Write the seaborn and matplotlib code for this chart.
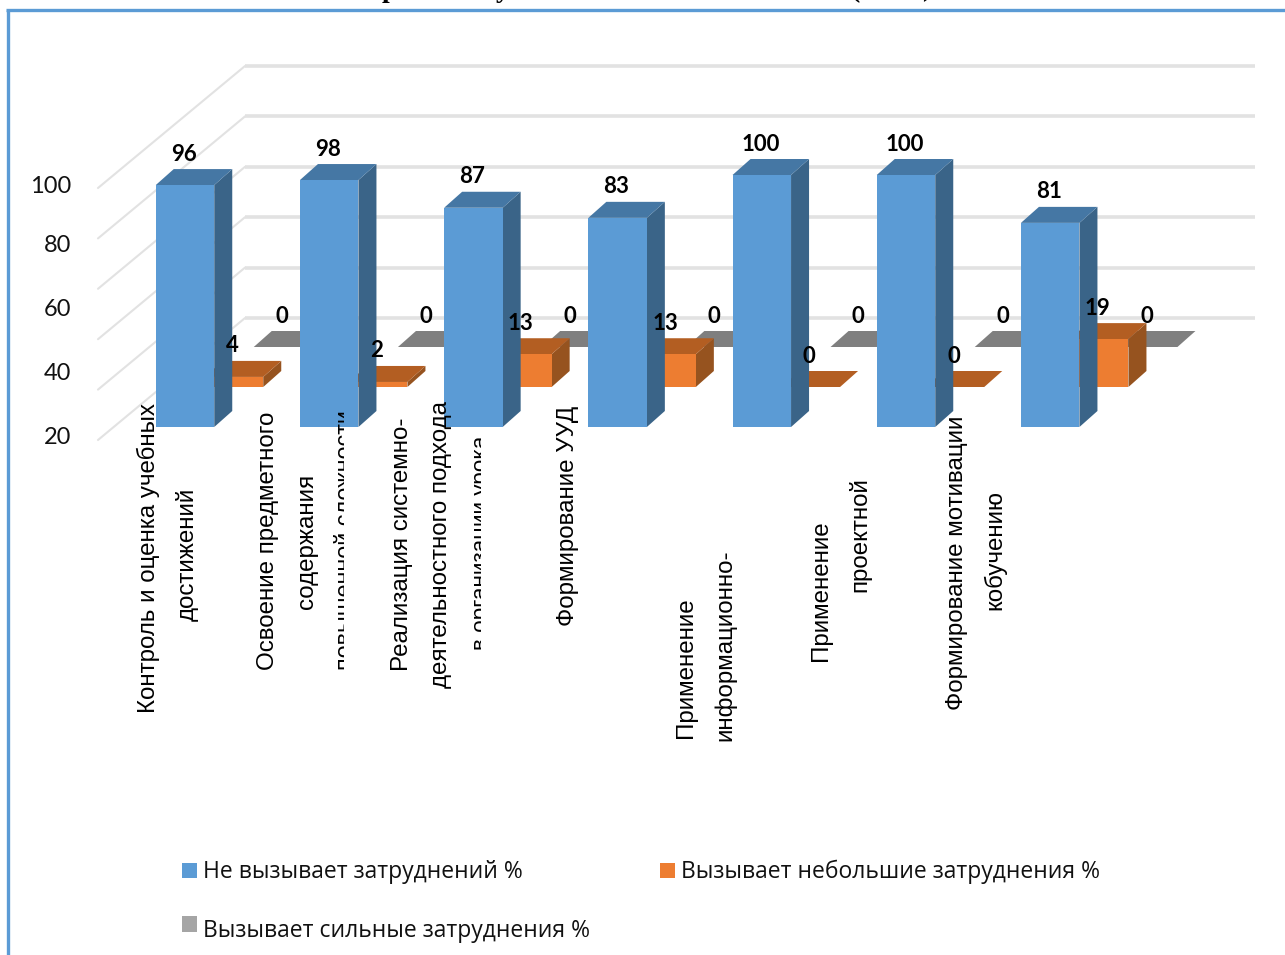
import matplotlib
matplotlib.use("Agg")
import matplotlib.pyplot as plt
import seaborn as sns
from matplotlib.patches import Patch, Rectangle

# ---------- data ----------
series_names = ["Не вызывает затруднений %", "Вызывает небольшие затруднения %", "Вызывает сильные затруднения %"]
no_difficulty = [96, 98, 87, 83, 100, 100, 81]
small_difficulty = [4, 2, 13, 13, 0, 0, 19]
strong_difficulty = [0, 0, 0, 0, 0, 0, 0]
axis_ticks = ["20", "40", "60", "80", "100"]
grid_values = [20, 40, 60, 80, 100, 120]
category_lines = [
    "Контроль и оценка учебных", "достижений",
    "Освоение предметного", "содержания", "повышенной сложности",
    "Реализация системно-", "деятельностного подхода", "в организации урока",
    "Формирование УУД",
    "Применение", "информационно-",
    "Применение", "проектной",
    "Формирование мотивации", "кобучению",
]

# ---------- layout (pixels of the 1285x955 picture) ----------
W, H = 1285, 955
PITCH, X0, Y0, PX_PER_UNIT = 144.2, 185.0, 427.0, 2.52


def X(px):
    return (px - X0) / PITCH


def Y(py):
    return (Y0 - py) / PX_PER_UNIT


sns.set_theme(style="white")
plt.rcParams["font.family"] = ["Liberation Sans", "DejaVu Sans"]
fig = plt.figure(figsize=(W / 100, H / 100), dpi=100, facecolor="white")
ax = fig.add_axes([0, 0, 1, 1])

DX = 18 / PITCH
DY = 16 / PX_PER_UNIT
BAR_W = 58.5 / PITCH
GRID = "#E2E2E2"

# walls
wall_shift, front_shift = 23.25, -25.16
for g in grid_values:
    yb = g + wall_shift
    ax.plot([X(245), X(1255)], [yb, yb], color=GRID, lw=2.6, solid_capstyle="butt", zorder=1)
    ax.plot([X(98), X(245)], [g + front_shift, yb], color=GRID, lw=1.5, zorder=1)

styles = [
    (small_difficulty, 49 / PITCH, 40 / PX_PER_UNIT, "#ED7D31", "#B35E22", "#96531F"),
    (no_difficulty, 0.0, 0.0, "#5B9BD5", "#4577A4", "#3A6488"),
]
gray = (strong_difficulty, 98 / PITCH, 80 / PX_PER_UNIT, "#A5A5A5", "#7F7F7F", "#6B6B6B")

z = 2
for values, xoff, base, front, top, side in [gray] + styles:
    xs = [i + xoff for i in range(len(values))]
    for x, v in zip(xs, values):
        l, r, t = x - BAR_W / 2, x + BAR_W / 2, base + v
        ax.fill([r, r + DX, r + DX, r], [base, base + DY, t + DY, t], color=side, lw=0, zorder=z)
        ax.fill([l, r, r + DX, l + DX], [t, t, t + DY, t + DY], color=top, lw=0, zorder=z)
    sns.barplot(x=xs, y=values, bottom=base, color=front, saturation=1, native_scale=True,
                width=BAR_W, linewidth=0, ax=ax, zorder=z + 0.5)
    z += 1

# value labels
for values, xoff, base, *_ in [gray] + styles:
    for i, v in enumerate(values):
        ax.text(i + xoff - 1.5 / PITCH, base + v + 31 / PX_PER_UNIT, str(v), ha="center", va="center",
                fontsize=16, fontweight="bold", family="Lato", color="black", zorder=10)

# axis numbers
for lab, py in zip(axis_ticks, [437.5, 373.5, 309.5, 245.5, 186.5]):
    ax.text(X(71), Y(py), lab, ha="right", va="center", fontsize=17, family="Lato",
            color="#111111", zorder=10)

# category labels: x centre, y centre, font size, clip box (x0, y0, x1, y1) or None
placements = [
    (148, 558, 17.4, None), (187, 554, 17.4, None),
    (268, 541, 17.4, None), (307, 541, 17.4, None), (346, 540, 16.8, (320, 408, 344, 672)),
    (402, 544, 17.4, None), (441, 544, 17.4, None), (481, 543, 16.2, (462, 431, 481, 656)),
    (568, 516, 17.4, None),
    (686, 668, 17.4, None), (725, 645, 17.4, (705, 500, 745, 742)),
    (821, 591, 17.4, None), (860, 535, 17.4, None),
    (957, 563, 17.4, None), (995, 550, 17.4, None),
]
for line, (px, py, size, clip) in zip(category_lines, placements):
    t = ax.text(X(px), Y(py), line, rotation=90, ha="center", va="center", fontsize=size,
                family="Liberation Sans", color="black", zorder=11)
    if clip is not None:
        x0, y0, x1, y1 = clip
        rect = Rectangle((X(x0), Y(y1)), X(x1) - X(x0), Y(y0) - Y(y1), transform=ax.transData)
        t.set_clip_path(rect)
        t.set_clip_on(True)

# fragments of the cropped heading: only the descenders are visible
for frag, px, base_py in zip(["р", "у", "(", ")"], [389, 503, 855, 927], [-3, -3, -2.5, -4]):
    ax.text(X(px), Y(base_py), frag, ha="center", va="baseline", fontsize=20, fontweight="bold",
            family="Liberation Serif", color="black", zorder=12, clip_on=False)

# frame
ax.plot([X(7.5), X(7.5)], [Y(H + 5), Y(10.5)], color="#5B9BD5", lw=2.4, solid_capstyle="butt", zorder=12)
ax.plot([X(6), X(W + 5)], [Y(10.5), Y(10.5)], color="#5B9BD5", lw=2.4, solid_capstyle="butt", zorder=12)

ax.set_xlim(X(0), X(W))
ax.set_ylim(Y(H), Y(0))
ax.axis("off")

# legend
handles = [Patch(color="#5B9BD5", label=series_names[0], lw=0),
           Patch(color="#A5A5A5", label=series_names[2], lw=0),
           Patch(color="#ED7D31", label=series_names[1], lw=0)]
FS = 16.5
fpx = FS * 100 / 72
leg = fig.legend(handles=handles, ncols=2, frameon=False, loc="upper left",
                 bbox_to_anchor=(182 / W, 1 - 860 / H), borderaxespad=0, borderpad=0,
                 handlelength=15 / fpx, handleheight=15 / fpx, handletextpad=6 / fpx,
                 columnspacing=70 / fpx, labelspacing=1.53,
                 prop={"family": "Open Sans", "size": FS})
for t in leg.get_texts():
    t.set_color("#111111")
gray_handle = leg.legend_handles[1]
gray_handle.set_y(gray_handle.get_y() + 4)

fig.savefig("out.png", dpi=100)
